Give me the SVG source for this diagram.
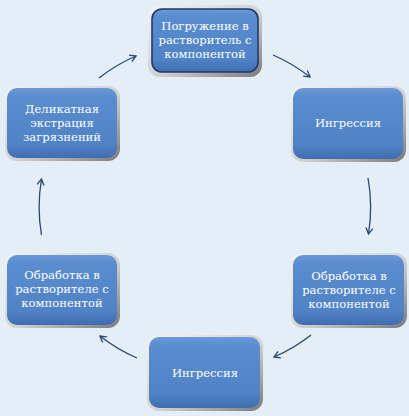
<svg xmlns="http://www.w3.org/2000/svg" width="409" height="416" viewBox="0 0 409 416">
<defs>
<linearGradient id="frame" x1="0" y1="0" x2="1" y2="1">
<stop offset="0" stop-color="#f4f4f4"/>
<stop offset="0.55" stop-color="#d0d0d0"/>
<stop offset="1" stop-color="#7a7a7a"/>
</linearGradient>
<linearGradient id="blue" x1="0" y1="0" x2="0" y2="1">
<stop offset="0" stop-color="#6a9ad8"/>
<stop offset="0.12" stop-color="#5a8cd0"/>
<stop offset="0.8" stop-color="#5082c6"/>
<stop offset="1" stop-color="#406db0"/>
</linearGradient>
<marker id="ah" markerWidth="10" markerHeight="10" refX="7" refY="4" orient="auto" markerUnits="userSpaceOnUse">
<path d="M1,0.5 L7,4 L1,7.5" fill="none" stroke="#2c4673" stroke-width="1.3"/>
</marker>
</defs>
<style>
.frame{fill:url(#frame)}
.box{fill:url(#blue)}
.sel{fill:url(#blue);stroke:#1f3a6e;stroke-width:1.6}
.t{font-family:"DejaVu Serif","Liberation Serif",serif;font-size:11.6px;fill:#ffffff;text-anchor:middle}
.c{fill:none;stroke:#2c4673;stroke-width:1.3;marker-end:url(#ah)}
</style>
<rect width="409" height="416" fill="#e3eef6"/>
<g id="connectors">
<path class="c" d="M99,78 A166,166 0 0 1 136,56"/>
<path class="c" d="M273,55 A166,166 0 0 1 310,77"/>
<path class="c" d="M368,178 A166,166 0 0 1 368.5,234"/>
<path class="c" d="M311,335 A166,166 0 0 1 274,357"/>
<path class="c" d="M137,358 A166,166 0 0 1 100,336"/>
<path class="c" d="M41.5,235 A166,166 0 0 1 41.5,179"/>
</g>
<g id="node1">
<rect class="frame" x="148" y="5" width="114" height="72" rx="12"/>
<rect class="sel" x="152" y="9" width="106" height="63" rx="10"/>
<text class="t" x="205" y="30">Погружение в</text>
<text class="t" x="205" y="44">растворитель с</text>
<text class="t" x="205" y="58">компонентой</text>
</g>
<g id="node2">
<rect class="frame" x="291" y="86" width="115" height="76" rx="12"/>
<rect class="box" x="293" y="88" width="110" height="71" rx="10"/>
<text class="t" x="348" y="127">Ингрессия</text>
</g>
<g id="node3">
<rect class="frame" x="291" y="253" width="116" height="75" rx="12"/>
<rect class="box" x="293" y="255" width="111" height="70" rx="10"/>
<text class="t" x="349" y="280">Обработка в</text>
<text class="t" x="349" y="294">растворителе с</text>
<text class="t" x="349" y="308">компонентой</text>
</g>
<g id="node4">
<rect class="frame" x="147" y="335" width="116" height="76" rx="12"/>
<rect class="box" x="149" y="337" width="111" height="71" rx="10"/>
<text class="t" x="205" y="377">Ингрессия</text>
</g>
<g id="node5">
<rect class="frame" x="5" y="253" width="115" height="75" rx="12"/>
<rect class="box" x="7" y="255" width="110" height="70" rx="10"/>
<text class="t" x="62" y="279">Обработка в</text>
<text class="t" x="62" y="293">растворителе с</text>
<text class="t" x="62" y="307">компонентой</text>
</g>
<g id="node6">
<rect class="frame" x="5" y="86" width="115" height="75" rx="12"/>
<rect class="box" x="7" y="88" width="110" height="70" rx="10"/>
<text class="t" x="62" y="113">Деликатная</text>
<text class="t" x="62" y="127">экстрация</text>
<text class="t" x="62" y="141">загрязнений</text>
</g>
</svg>
